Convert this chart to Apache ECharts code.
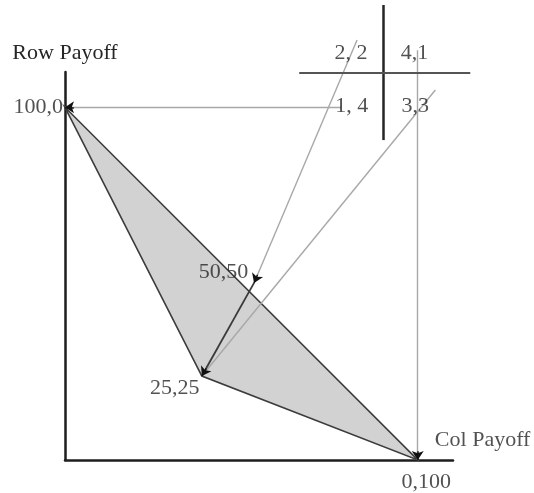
<!DOCTYPE html>
<html><head><meta charset="utf-8">
<script src="https://cdn.jsdelivr.net/npm/echarts@6/dist/echarts.min.js"></script>
<style>html,body{margin:0;padding:0;background:#fff}#c{width:534px;height:493px}</style>
</head><body><div id="c"></div>
<script>
// Payoff points as drawn (x = column payoff, y = row payoff)
const pointNames = ['100,0', '50,50', '25,25', '0,100'];
const pointX = [0, 53.6, 38.8, 100];
const pointY = [100, 50.2, 23.8, 0];
// Shaded feasible region (triangle)
const regionX = [0, 38.8, 100];
const regionY = [100, 23.8, 0];
// Game matrix cells
const cellLabels = ['2, 2', '4,1', '1, 4', '3,3'];
const cellX = [81.1, 99.1, 81.3, 99.3];
const cellY = [115.4, 115.4, 100.4, 100.4];
// Matrix grid lines
const gridLineX1 = [90.2, 66.4];
const gridLineY1 = [129.0, 109.7];
const gridLineX2 = [90.2, 114.9];
const gridLineY2 = [90.7, 109.7];
// Thin mapping lines from cells to payoff points
const mapFromX = [78.3, 100, 82.8, 105];
const mapFromY = [100, 116.2, 119.1, 104.9];
const mapToX = [0, 100, 53.6, 38.8];
const mapToY = [100, 0, 50.2, 23.8];
const mapArrow = [true, true, true, false];
// Dark arrow 50,50 -> 25,25
const moveFrom = [53.6, 50.2];
const moveTo = [38.8, 23.8];
// Axis names
const rowAxisName = 'Row Payoff';
const colAxisName = 'Col Payoff';

const FONT = 'Liberation Serif, Times New Roman, serif';
const TXT = '#262626';

// label offsets (layout only)
const pointLabelLayout = [
  {position: 'left', distance: 2, offset: [0, 0]},
  {position: 'inside', offset: [-30.5, -11]},
  {position: 'inside', offset: [-27, 12]},
  {position: 'inside', offset: [8.5, 22]}
];

function arrowTip(fx, fy, tx, ty) {
  const dx = fx - tx, dy = fy - ty;
  const len = Math.sqrt(dx * dx + dy * dy);
  const t = 2.5 / len;
  return [[tx + dx * t, ty + dy * t], [tx, ty]];
}

const mapLines = mapFromX.map((x, i) => ({coords: [[x, mapFromY[i]], [mapToX[i], mapToY[i]]]}));
const arrowHeads = [];
mapFromX.forEach((x, i) => {
  if (mapArrow[i]) arrowHeads.push({coords: arrowTip(x, mapFromY[i], mapToX[i], mapToY[i])});
});
arrowHeads.push({coords: arrowTip(moveFrom[0], moveFrom[1], moveTo[0], moveTo[1])});

const labelData = pointNames.map((n, i) => ({
  name: n, value: [pointX[i], pointY[i]],
  label: Object.assign({}, pointLabelLayout[i])
}));
labelData.push({name: colAxisName, value: [118.4, 5.7], label: {position: 'inside', offset: [0, 0]}});
cellLabels.forEach((n, i) => labelData.push({name: n, value: [cellX[i], cellY[i]], label: {position: 'inside'}}));

const chart = echarts.init(document.getElementById('c'), null, {renderer: 'canvas'});
chart.setOption({
  animation: false,
  backgroundColor: '#fff',
  grid: {left: 65, right: 81, top: 72, bottom: 33, containLabel: false},
  xAxis: {
    type: 'value', min: 0, max: 110,
    axisLine: {show: true, onZero: false, lineStyle: {color: '#1e1e1e', width: 2.5}},
    axisTick: {show: false}, axisLabel: {show: false}, splitLine: {show: false}
  },
  yAxis: {
    type: 'value', min: 0, max: 110,
    name: rowAxisName, nameLocation: 'end', nameGap: 8,
    nameTextStyle: {fontFamily: FONT, fontSize: 22, color: TXT, align: 'center'},
    axisLine: {show: true, onZero: false, lineStyle: {color: '#1e1e1e', width: 2.5}},
    axisTick: {show: false}, axisLabel: {show: false}, splitLine: {show: false}
  },
  series: [
    {
      type: 'custom', z: 1, clip: false,
      data: [[0, 0]],
      renderItem: function (params, api) {
        const pts = regionX.map((x, i) => api.coord([x, regionY[i]]));
        return {
          type: 'polygon',
          shape: {points: pts},
          style: {fill: '#d2d2d2', stroke: '#3c3c3c', lineWidth: 1.6}
        };
      }
    },
    {
      type: 'lines', coordinateSystem: 'cartesian2d', z: 2, clip: false,
      symbol: ['none', 'none'],
      lineStyle: {color: '#a8a8a8', width: 1.4, opacity: 1},
      data: mapLines
    },
    {
      type: 'lines', coordinateSystem: 'cartesian2d', z: 3, clip: false,
      symbol: ['none', 'none'],
      lineStyle: {color: '#3a3a3a', width: 1.8, opacity: 1},
      data: [{coords: [moveFrom, moveTo]}]
    },
    {
      type: 'lines', coordinateSystem: 'cartesian2d', z: 3, clip: false,
      symbol: ['none', 'none'],
      lineStyle: {color: '#262626', width: 2.5, opacity: 1},
      data: [{coords: [[gridLineX1[0], gridLineY1[0]], [gridLineX2[0], gridLineY2[0]]]}]
    },
    {
      type: 'lines', coordinateSystem: 'cartesian2d', z: 3, clip: false,
      symbol: ['none', 'none'],
      lineStyle: {color: '#555', width: 2, opacity: 1},
      data: [{coords: [[gridLineX1[1], gridLineY1[1]], [gridLineX2[1], gridLineY2[1]]]}]
    },
    {
      type: 'lines', coordinateSystem: 'cartesian2d', z: 4, clip: false,
      symbol: ['none', 'arrow'], symbolSize: 9,
      lineStyle: {color: '#111', width: 1.5, opacity: 1},
      data: arrowHeads
    },
    {
      type: 'scatter', z: 5, clip: false,
      symbolSize: 0.1,
      itemStyle: {color: 'rgba(0,0,0,0)'},
      label: {
        show: true, formatter: '{b}',
        fontFamily: FONT, fontSize: 22, color: TXT
      },
      emphasis: {disabled: true},
      data: labelData
    }
  ]
});
</script>
</body></html>
